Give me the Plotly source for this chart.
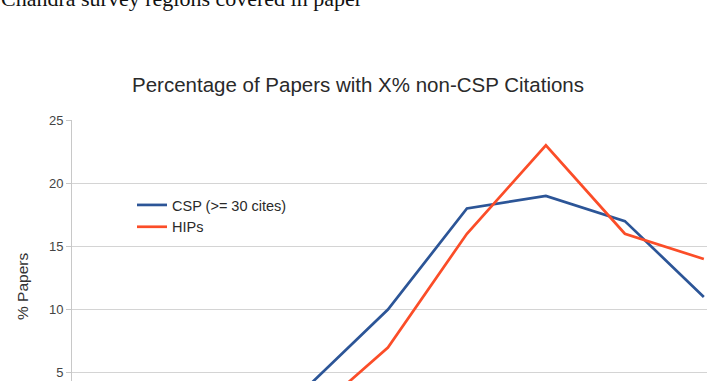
import plotly.graph_objects as go

# % non-CSP citations (category positions); only the visible part of the chart
x_pct = [30, 40, 50, 60, 70, 80]
csp = [4, 10, 18, 19, 17, 11]
hips = [1.5, 7, 16, 23, 16, 14]
series_names = ["CSP (>= 30 cites)", "HIPs"]
y_ticks = [5, 10, 15, 20, 25]

W, H = 707, 381
ML, MT = 72, 120
plot_h = H - MT

fig = go.Figure()
fig.add_trace(go.Scatter(x=x_pct, y=csp, mode="lines", name=series_names[0],
                         line=dict(color="#2c5597", width=2.7)))
fig.add_trace(go.Scatter(x=x_pct, y=hips, mode="lines", name=series_names[1],
                         line=dict(color="#fb4d28", width=2.7)))

def px_to_paper_y(py):
    return (H - py) / plot_h

def px_to_paper_x(px):
    return (px - ML) / (W - ML)

fig.update_layout(
    width=W, height=H,
    margin=dict(l=ML, r=0, t=MT, b=0, pad=0),
    paper_bgcolor="white", plot_bgcolor="white",
    font=dict(family="Liberation Sans, Arial, sans-serif", color="#333333"),
    title=dict(text="Percentage of Papers with X% non-CSP Citations",
               x=358 / W, xanchor="center", y=1 - 85 / H, yanchor="middle",
               font=dict(size=20.5, color="#2a2a2a")),
    xaxis=dict(range=[0, 80.4], showgrid=False, zeroline=False, showline=False,
               showticklabels=False, ticks=""),
    yaxis=dict(range=[4.35, 25], tickvals=y_ticks, showgrid=True,
               gridcolor="#d4d4d4", gridwidth=1, zeroline=False,
               showline=True, linecolor="#c8c8c8", linewidth=1,
               ticks="outside", ticklen=5, tickcolor="#c8c8c8",
               tickfont=dict(size=13, color="#444444")),
    legend=dict(x=px_to_paper_x(132), y=px_to_paper_y(189), xanchor="left", yanchor="top",
                font=dict(size=14.5, color="#2a2a2a"), bgcolor="rgba(0,0,0,0)",
                tracegroupgap=0, itemwidth=30),
    showlegend=True,
)

fig.add_annotation(text="% Papers", textangle=-90, xref="paper", yref="paper",
                   x=0, xshift=22 - ML, y=px_to_paper_y(287), xanchor="center", yanchor="middle",
                   showarrow=False, font=dict(size=15.5, color="#333333"))

fig.add_annotation(text="Chandra survey regions covered in paper", xref="paper", yref="paper",
                   x=px_to_paper_x(-1), y=px_to_paper_y(-2), xanchor="left", yanchor="middle",
                   showarrow=False,
                   font=dict(size=22, family="Liberation Serif, Times New Roman, serif", color="#111111"))

fig.write_html("out.html")
